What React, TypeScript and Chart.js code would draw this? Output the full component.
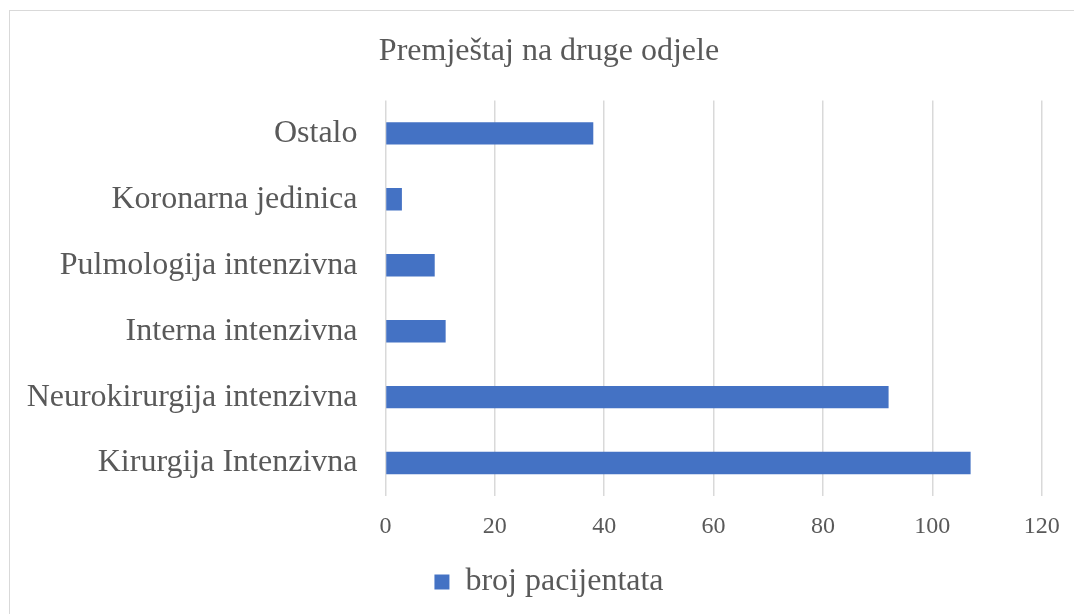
import React, { useEffect, useRef } from "react";
import { Chart, registerables } from "chart.js";

Chart.register(...registerables);

const categories = [
  "Ostalo",
  "Koronarna jedinica",
  "Pulmologija intenzivna",
  "Interna intenzivna",
  "Neurokirurgija intenzivna",
  "Kirurgija Intenzivna",
];
const patientCounts = [38, 3, 9, 11, 92, 107];
const seriesName = "broj pacijentata";
const chartTitle = "Premještaj na druge odjele";
const xMin = 0;
const xMax = 120;
const xStep = 20;

const TEXT = "#595959";
const GRID = "#d9d9d9";
const BAR = "#4472C4";
const FONT = "'Liberation Serif', 'Times New Roman', serif";

export default function App() {
  const ref = useRef<HTMLCanvasElement>(null);

  useEffect(() => {
    if (!ref.current) return;
    const chart = new Chart(ref.current, {
      type: "bar",
      data: {
        labels: categories,
        datasets: [
          {
            label: seriesName,
            data: patientCounts,
            backgroundColor: BAR,
            borderWidth: 0,
            barPercentage: 0.34,
            categoryPercentage: 1,
            xAxisID: "x",
            yAxisID: "y",
          },
        ],
      },
      options: {
        indexAxis: "y",
        animation: false,
        responsive: true,
        maintainAspectRatio: false,
        layout: { padding: { left: 0, right: 0, top: 0, bottom: 6 } },
        font: { family: FONT },
        plugins: {
          title: {
            display: true,
            text: chartTitle,
            color: TEXT,
            font: { family: FONT, size: 32, weight: "normal" },
            padding: { top: 24, bottom: 30 },
          },
          legend: {
            display: true,
            position: "bottom",
            labels: {
              color: TEXT,
              font: { family: FONT, size: 32 },
              boxWidth: 15,
              boxHeight: 15,
              padding: 10,
            },
          },
          tooltip: { enabled: false },
        },
        scales: {
          x: {
            type: "linear",
            min: xMin,
            max: xMax,
            ticks: {
              stepSize: xStep,
              color: TEXT,
              font: { family: FONT, size: 24 },
              padding: 16,
            },
            grid: { color: GRID, lineWidth: 1.5, drawTicks: false },
            border: { display: false },
            afterFit(scale: any) {
              scale.height = 60;
            },
          },
          y: {
            type: "category",
            position: "left",
            ticks: {
              color: TEXT,
              font: { family: FONT, size: 32 },
              padding: 28,
            },
            grid: { display: false, drawTicks: false },
            border: { display: false },
            afterFit(scale: any) {
              scale.width = 377.5;
            },
          },
          yRight: {
            type: "category",
            axis: "y",
            position: "right",
            ticks: { display: false },
            grid: { display: false, drawTicks: false },
            border: { display: false },
            afterFit(scale: any) {
              scale.width = 48.3;
            },
          },
        },
      },
    });
    return () => chart.destroy();
  }, []);

  return (
    <div
      style={{
        position: "fixed",
        left: 8,
        top: 8,
        width: 1066,
        height: 606,
        overflow: "hidden",
        background: "#fff",
      }}
    >
      <div
        style={{
          position: "absolute",
          left: 1,
          top: 2,
          width: 2000,
          height: 2000,
          borderTop: `1px solid ${GRID}`,
          borderLeft: `1px solid ${GRID}`,
        }}
      />
      <div style={{ position: "absolute", left: 0, top: 0, width: 1082, height: 606 }}>
        <canvas ref={ref} />
      </div>
    </div>
  );
}
